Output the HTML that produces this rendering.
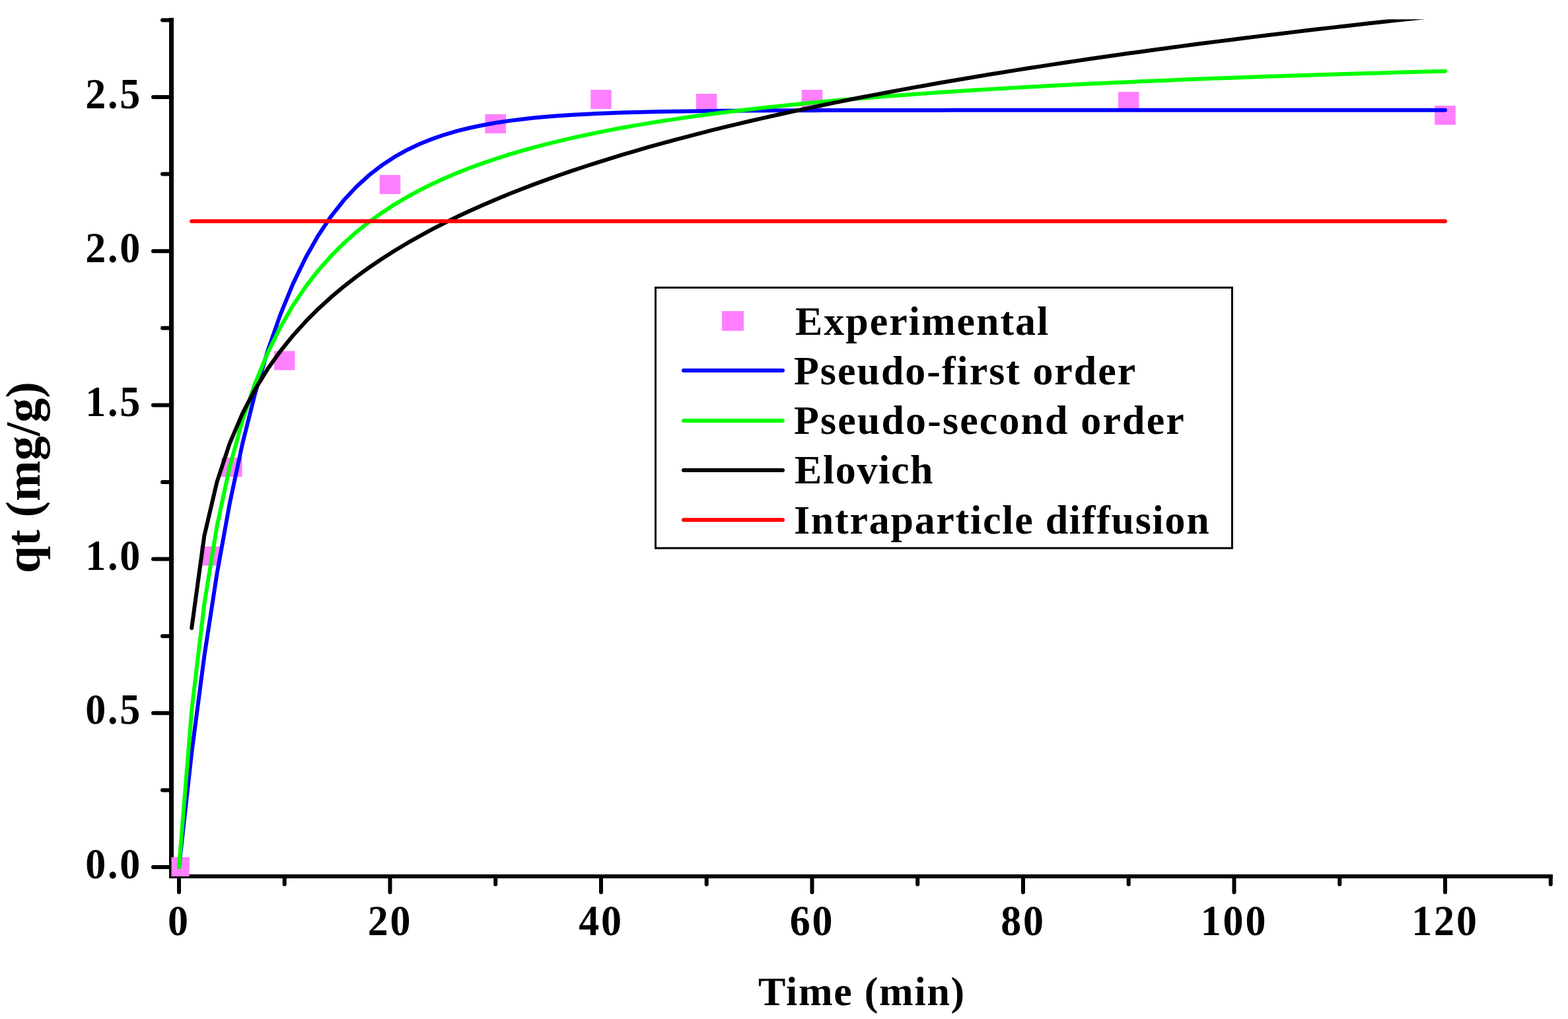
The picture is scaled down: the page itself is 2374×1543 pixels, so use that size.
<!DOCTYPE html>
<html><head><meta charset="utf-8"><title>qt vs Time</title>
<style>
html,body{margin:0;padding:0;background:#fff;}
svg{display:block;}
text{font-family:"Liberation Serif","Times New Roman",serif;font-weight:bold;font-size:62px;fill:#000;}
.ls{letter-spacing:1.5px;}
</style></head>
<body>
<svg width="2374" height="1543" viewBox="0 0 2374 1543">
<rect width="2374" height="1543" fill="#fff"/>
<defs><clipPath id="pc"><rect x="259.5" y="29.3" width="2092" height="1297.7"/></clipPath></defs>
<!-- axes -->
<g fill="#000">
<rect x="256" y="27" width="7" height="1303"/>
<rect x="256" y="1324" width="2095" height="6"/>
</g>
<g stroke="#000" stroke-width="6" stroke-linecap="round"><line x1="232" y1="1313.00" x2="258" y2="1313.00"/><line x1="246" y1="1196.40" x2="258" y2="1196.40"/><line x1="232" y1="1079.80" x2="258" y2="1079.80"/><line x1="246" y1="963.20" x2="258" y2="963.20"/><line x1="232" y1="846.60" x2="258" y2="846.60"/><line x1="246" y1="730.00" x2="258" y2="730.00"/><line x1="232" y1="613.40" x2="258" y2="613.40"/><line x1="246" y1="496.80" x2="258" y2="496.80"/><line x1="232" y1="380.20" x2="258" y2="380.20"/><line x1="246" y1="263.60" x2="258" y2="263.60"/><line x1="232" y1="147.00" x2="258" y2="147.00"/><line x1="246" y1="30.40" x2="258" y2="30.40"/><line x1="271.00" y1="1328" x2="271.00" y2="1351"/><line x1="430.75" y1="1328" x2="430.75" y2="1339"/><line x1="590.50" y1="1328" x2="590.50" y2="1351"/><line x1="750.25" y1="1328" x2="750.25" y2="1339"/><line x1="910.00" y1="1328" x2="910.00" y2="1351"/><line x1="1069.75" y1="1328" x2="1069.75" y2="1339"/><line x1="1229.50" y1="1328" x2="1229.50" y2="1351"/><line x1="1389.25" y1="1328" x2="1389.25" y2="1339"/><line x1="1549.00" y1="1328" x2="1549.00" y2="1351"/><line x1="1708.75" y1="1328" x2="1708.75" y2="1339"/><line x1="1868.50" y1="1328" x2="1868.50" y2="1351"/><line x1="2028.25" y1="1328" x2="2028.25" y2="1339"/><line x1="2188.00" y1="1328" x2="2188.00" y2="1351"/><line x1="2347.75" y1="1328" x2="2347.75" y2="1339"/></g>
<!-- plot -->
<g clip-path="url(#pc)">
<g fill="#ff80ff"><rect x="255.25" y="1298.00" width="31.5" height="29"/><rect x="303.18" y="827.40" width="31.5" height="29"/><rect x="335.12" y="693.00" width="31.5" height="29"/><rect x="415.00" y="531.50" width="31.5" height="29"/><rect x="574.75" y="264.90" width="31.5" height="29"/><rect x="734.50" y="172.90" width="31.5" height="29"/><rect x="894.25" y="136.00" width="31.5" height="29"/><rect x="1054.00" y="142.00" width="31.5" height="29"/><rect x="1213.75" y="136.00" width="31.5" height="29"/><rect x="1693.00" y="139.10" width="31.5" height="29"/><rect x="2172.25" y="160.00" width="31.5" height="29"/></g>
<g fill="none" stroke-width="6" stroke-linejoin="round" stroke-linecap="round">
<polyline stroke="#0000ff" points="271.00,1313.00 290.17,1140.09 309.34,993.26 328.51,868.58 347.68,762.71 366.85,672.81 386.02,596.48 405.19,531.66 424.36,476.62 443.53,429.88 462.70,390.19 481.87,356.50 501.04,327.88 520.21,303.58 539.38,282.95 558.55,265.43 577.72,250.55 596.89,237.92 616.06,227.19 635.23,218.08 654.40,210.35 673.57,203.78 692.74,198.20 711.91,193.47 731.08,189.45 750.25,186.03 769.42,183.13 788.59,180.67 807.76,178.58 826.93,176.80 846.10,175.30 865.27,174.02 884.44,172.93 903.61,172.01 922.78,171.22 941.95,170.56 961.12,169.99 980.29,169.51 999.46,169.11 1018.63,168.76 1037.80,168.47 1056.97,168.22 1076.14,168.00 1095.31,167.83 1114.48,167.67 1133.65,167.54 1152.82,167.43 1171.99,167.34 1191.16,167.26 1210.33,167.19 1229.50,167.13 1248.67,167.09 1267.84,167.05 1287.01,167.01 1306.18,166.98 1325.35,166.95 1344.52,166.93 1363.69,166.92 1382.86,166.90 1402.03,166.89 1421.20,166.88 1440.37,166.87 1459.54,166.86 1478.71,166.85 1497.88,166.85 1517.05,166.84 1536.22,166.84 1555.39,166.83 1574.56,166.83 1593.73,166.83 1612.90,166.82 1632.07,166.82 1651.24,166.82 1670.41,166.82 1689.58,166.82 1708.75,166.82 1727.92,166.82 1747.09,166.82 1766.26,166.82 1785.43,166.82 1804.60,166.82 1823.77,166.81 1842.94,166.81 1862.11,166.81 1881.28,166.81 1900.45,166.81 1919.62,166.81 1938.79,166.81 1957.96,166.81 1977.13,166.81 1996.30,166.81 2015.47,166.81 2034.64,166.81 2053.81,166.81 2072.98,166.81 2092.15,166.81 2111.32,166.81 2130.49,166.81 2149.66,166.81 2168.83,166.81 2188.00,166.81"/>
<polyline stroke="#00ff00" points="271.00,1313.00 290.17,1075.99 309.34,914.17 328.51,796.67 347.68,707.46 366.85,637.43 386.02,581.00 405.19,534.54 424.36,495.64 443.53,462.59 462.70,434.16 481.87,409.44 501.04,387.76 520.21,368.58 539.38,351.50 558.55,336.19 577.72,322.39 596.89,309.88 616.06,298.49 635.23,288.08 654.40,278.53 673.57,269.73 692.74,261.60 711.91,254.07 731.08,247.07 750.25,240.55 769.42,234.45 788.59,228.75 807.76,223.40 826.93,218.37 846.10,213.64 865.27,209.17 884.44,204.95 903.61,200.95 922.78,197.16 941.95,193.57 961.12,190.16 980.29,186.91 999.46,183.81 1018.63,180.86 1037.80,178.04 1056.97,175.34 1076.14,172.76 1095.31,170.29 1114.48,167.92 1133.65,165.65 1152.82,163.47 1171.99,161.37 1191.16,159.36 1210.33,157.42 1229.50,155.55 1248.67,153.75 1267.84,152.01 1287.01,150.33 1306.18,148.71 1325.35,147.15 1344.52,145.63 1363.69,144.17 1382.86,142.75 1402.03,141.38 1421.20,140.05 1440.37,138.77 1459.54,137.52 1478.71,136.30 1497.88,135.13 1517.05,133.98 1536.22,132.87 1555.39,131.79 1574.56,130.74 1593.73,129.72 1612.90,128.73 1632.07,127.76 1651.24,126.82 1670.41,125.90 1689.58,125.01 1708.75,124.14 1727.92,123.29 1747.09,122.46 1766.26,121.65 1785.43,120.86 1804.60,120.09 1823.77,119.34 1842.94,118.61 1862.11,117.89 1881.28,117.19 1900.45,116.50 1919.62,115.83 1938.79,115.17 1957.96,114.53 1977.13,113.90 1996.30,113.29 2015.47,112.69 2034.64,112.10 2053.81,111.52 2072.98,110.95 2092.15,110.40 2111.32,109.86 2130.49,109.32 2149.66,108.80 2168.83,108.29 2188.00,107.79"/>
<polyline stroke="#000000" points="290.17,950.98 309.34,811.28 328.51,729.57 347.68,671.59 366.85,626.61 386.02,589.87 405.19,558.80 424.36,531.89 443.53,508.15 462.70,486.92 481.87,467.71 501.04,450.17 520.21,434.04 539.38,419.11 558.55,405.20 577.72,392.20 596.89,379.98 616.06,368.46 635.23,357.56 654.40,347.22 673.57,337.39 692.74,328.01 711.91,319.06 731.08,310.48 750.25,302.25 769.42,294.35 788.59,286.74 807.76,279.41 826.93,272.34 846.10,265.51 865.27,258.90 884.44,252.50 903.61,246.30 922.78,240.28 941.95,234.44 961.12,228.76 980.29,223.24 999.46,217.87 1018.63,212.63 1037.80,207.53 1056.97,202.55 1076.14,197.69 1095.31,192.95 1114.48,188.32 1133.65,183.79 1152.82,179.36 1171.99,175.03 1191.16,170.78 1210.33,166.63 1229.50,162.56 1248.67,158.56 1267.84,154.65 1287.01,150.81 1306.18,147.04 1325.35,143.35 1344.52,139.72 1363.69,136.15 1382.86,132.64 1402.03,129.20 1421.20,125.81 1440.37,122.48 1459.54,119.20 1478.71,115.98 1497.88,112.80 1517.05,109.68 1536.22,106.60 1555.39,103.57 1574.56,100.59 1593.73,97.64 1612.90,94.74 1632.07,91.88 1651.24,89.07 1670.41,86.29 1689.58,83.54 1708.75,80.84 1727.92,78.17 1747.09,75.53 1766.26,72.93 1785.43,70.37 1804.60,67.83 1823.77,65.33 1842.94,62.86 1862.11,60.41 1881.28,58.00 1900.45,55.61 1919.62,53.26 1938.79,50.93 1957.96,48.62 1977.13,46.35 1996.30,44.09 2015.47,41.87 2034.64,39.66 2053.81,37.49 2072.98,35.33 2092.15,33.20 2111.32,31.09 2130.49,29.00 2149.66,26.93 2168.83,24.89 2188.00,22.86"/>
<polyline stroke="#ff0000" points="290.17,335.01 2188.00,335.01"/>
</g>
</g>
<!-- tick labels -->
<g style="letter-spacing:2.8px"><text transform="translate(215 1329.50) scale(1 1.05)" text-anchor="end">0.0</text><text transform="translate(215 1096.30) scale(1 1.05)" text-anchor="end">0.5</text><text transform="translate(215 863.10) scale(1 1.05)" text-anchor="end">1.0</text><text transform="translate(215 629.90) scale(1 1.05)" text-anchor="end">1.5</text><text transform="translate(215 396.70) scale(1 1.05)" text-anchor="end">2.0</text><text transform="translate(215 163.50) scale(1 1.05)" text-anchor="end">2.5</text><text transform="translate(271.00 1416) scale(1 1.05)" text-anchor="middle">0</text><text transform="translate(590.50 1416) scale(1 1.05)" text-anchor="middle">20</text><text transform="translate(910.00 1416) scale(1 1.05)" text-anchor="middle">40</text><text transform="translate(1229.50 1416) scale(1 1.05)" text-anchor="middle">60</text><text transform="translate(1549.00 1416) scale(1 1.05)" text-anchor="middle">80</text><text transform="translate(1868.50 1416) scale(1 1.05)" text-anchor="middle">100</text><text transform="translate(2188.00 1416) scale(1 1.05)" text-anchor="middle">120</text></g>
<!-- axis titles -->
<text x="1148" y="1522" style="letter-spacing:1.72px">Time (min)</text>
<text x="60" y="723" text-anchor="middle" transform="rotate(-90 60 723)" style="font-size:74px">qt (mg/g)</text>
<!-- legend -->
<rect x="992.5" y="435.5" width="873" height="394.5" fill="none" stroke="#000" stroke-width="3"/>
<g><rect x="1093" y="471" width="33" height="30" fill="#ff80ff"/><text x="1204" y="507" style="letter-spacing:1.97px">Experimental</text><line x1="1035" y1="561" x2="1185" y2="561" stroke="#0000ff" stroke-width="6" stroke-linecap="round"/><text x="1202" y="582" style="letter-spacing:1.97px">Pseudo-first order</text><line x1="1035" y1="637" x2="1185" y2="637" stroke="#00ff00" stroke-width="6" stroke-linecap="round"/><text x="1202" y="657" style="letter-spacing:2.11px">Pseudo-second order</text><line x1="1035" y1="712" x2="1185" y2="712" stroke="#000000" stroke-width="6" stroke-linecap="round"/><text x="1203" y="732" style="letter-spacing:1.63px">Elovich</text><line x1="1035" y1="787.3" x2="1185" y2="787.3" stroke="#ff0000" stroke-width="6" stroke-linecap="round"/><text x="1202" y="808" style="letter-spacing:1.73px">Intraparticle diffusion</text></g>
</svg>
</body></html>
